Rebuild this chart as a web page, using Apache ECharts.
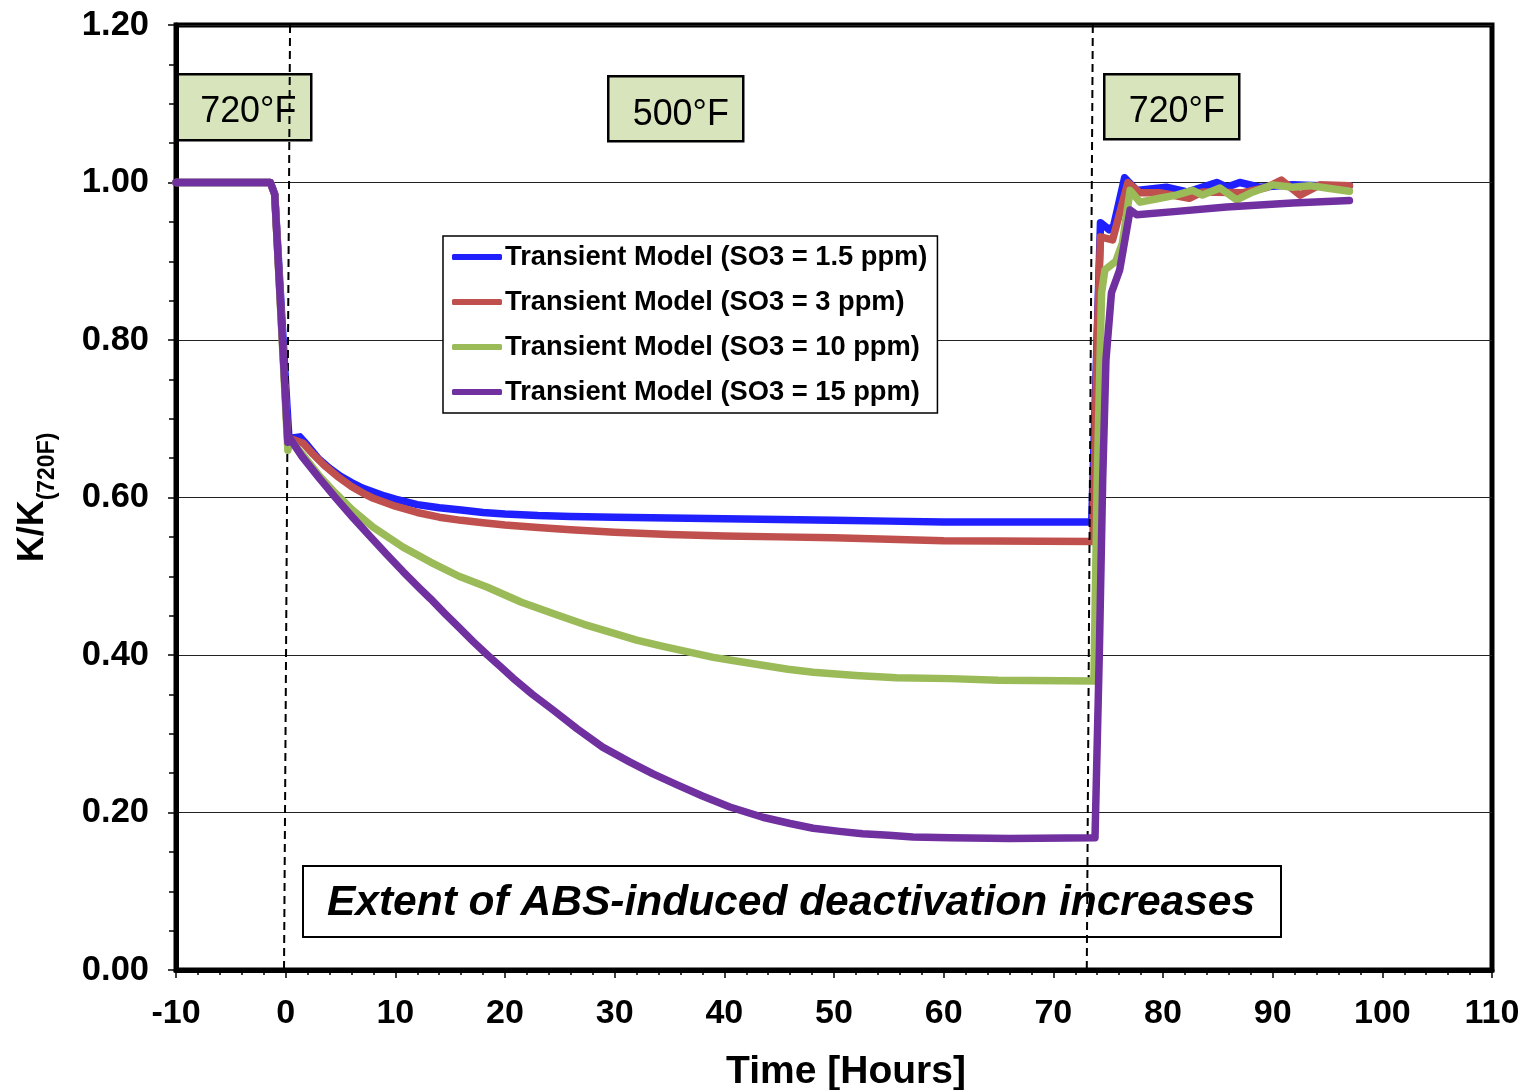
<!DOCTYPE html>
<html>
<head>
<meta charset="utf-8">
<script src="https://cdn.jsdelivr.net/npm/echarts@6/dist/echarts.min.js"></script>
<style>
html,body{margin:0;padding:0;background:#fff;}
#chart{width:1523px;height:1090px;}
</style>
</head>
<body>
<div id="chart"></div>
<script>
// ---- Data ----
const seriesNames = [
  'Transient Model (SO3 = 1.5 ppm)',
  'Transient Model (SO3 = 3 ppm)',
  'Transient Model (SO3 = 10 ppm)',
  'Transient Model (SO3 = 15 ppm)'
];
const timeBlue = [-10, -1.4, -1.0, 0.1, 0.3, 1.3, 2, 3, 4, 5, 6, 7, 8, 9, 10, 12, 14, 16, 18, 20, 23, 26, 30, 35, 40, 45, 50, 55, 60, 73.5, 74.3, 75.1, 75.5, 76.5, 77.6, 80.3, 82.2, 84.9, 85.8, 87.0, 88.8, 91.8, 94.3, 97];
const kBlue    = [1.0, 1.0, 0.985, 0.72, 0.675, 0.677, 0.666, 0.649, 0.637, 0.627, 0.619, 0.612, 0.607, 0.602, 0.598, 0.591, 0.587, 0.584, 0.581, 0.579, 0.577, 0.576, 0.575, 0.574, 0.573, 0.572, 0.571, 0.570, 0.569, 0.569, 0.949, 0.94, 0.945, 1.006, 0.99, 0.994, 0.988, 1.0, 0.994, 1.0, 0.994, 0.997, 0.996, 0.996];

const timeRed = [-10, -1.4, -1.0, 0.2, 0.4, 1.6, 2.5, 3.5, 4.7, 6, 7, 8, 9, 10, 12, 14, 16, 18, 20, 23, 26, 30, 35, 40, 45, 50, 55, 60, 73.6, 74.0, 74.3, 75.4, 76.8, 77.9, 79.7, 82.4, 83.6, 87.3, 89.5, 90.8, 92.5, 94.3, 97];
const kRed    = [1.0, 1.0, 0.985, 0.67, 0.675, 0.669, 0.655, 0.641, 0.627, 0.614, 0.606, 0.599, 0.594, 0.589, 0.581, 0.575, 0.571, 0.568, 0.565, 0.562, 0.559, 0.556, 0.553, 0.551, 0.550, 0.549, 0.547, 0.545, 0.544, 0.80, 0.931, 0.927, 1.0, 0.987, 0.987, 0.98, 0.988, 0.987, 0.994, 1.003, 0.984, 0.997, 0.996];

const timeGreen = [-10, -1.4, -1.0, 0.2, 0.4, 1.5, 3.1, 4.5, 6.1, 8, 10.7, 13.2, 15.8, 18.4, 21.5, 24.7, 27.2, 29.8, 32, 34.4, 36.7, 39, 41.2, 43.5, 45.8, 48.1, 52, 55.7, 60.6, 65, 73.7, 74.0, 74.4, 74.7, 75.7, 76.3, 77.0, 77.9, 79.7, 81.2, 82.7, 83.6, 85.2, 86.7, 88.2, 90.0, 91.8, 93.4, 94.9, 97];
const kGreen    = [1.0, 1.0, 0.985, 0.66, 0.673, 0.655, 0.627, 0.606, 0.584, 0.562, 0.537, 0.518, 0.50, 0.486, 0.467, 0.451, 0.439, 0.428, 0.419, 0.411, 0.404, 0.397, 0.392, 0.387, 0.382, 0.378, 0.374, 0.371, 0.370, 0.368, 0.367, 0.62, 0.86, 0.889, 0.90, 0.923, 0.99, 0.975, 0.98, 0.984, 0.99, 0.984, 0.993, 0.978, 0.988, 0.997, 0.994, 0.996, 0.993, 0.989];

const timePurple = [-10, -1.4, -1.0, 0.2, 0.3, 1.5, 3.1, 4.6, 6.1, 7.6, 9.2, 10.7, 12.2, 13.2, 14.5, 15.8, 17.1, 18.4, 19.6, 20.7, 22.5, 24.4, 26.6, 28.9, 31.4, 33.5, 35.7, 38, 40.5, 43.5, 46, 48.1, 50.5, 52.6, 55, 57.2, 60.6, 66, 73.8, 74.2, 74.5, 74.8, 75.3, 76.05, 77.0, 77.6, 81, 85.8, 91.8, 97];
const kPurple    = [1.0, 1.0, 0.985, 0.67, 0.677, 0.652, 0.624, 0.599, 0.575, 0.552, 0.528, 0.506, 0.485, 0.4715, 0.453, 0.435, 0.417, 0.40, 0.385, 0.371, 0.35, 0.33, 0.306, 0.283, 0.264, 0.249, 0.235, 0.221, 0.207, 0.194, 0.186, 0.18, 0.176, 0.173, 0.171, 0.169, 0.168, 0.167, 0.168, 0.406, 0.622, 0.775, 0.86, 0.889, 0.965, 0.959, 0.963, 0.969, 0.974, 0.977];

// temperature change markers (top and bottom ends of dashed lines)
const changeLineTop    = [[0.4, 1.2], [73.6, 1.2]];
const changeLineBottom = [[-0.15, 0], [73.05, 0]];

const tempLabels = ['720°F', '500°F', '720°F'];
const noteText = 'Extent of ABS-induced deactivation increases';

const xTicks = {min: -10, max: 110, interval: 10};
const yTicks = {min: 0, max: 1.2, interval: 0.2};

// ---- Styles ----
const colors = ['#2020ff', '#c0504d', '#9bbb59', '#7030a0'];
const FONT = '"Liberation Sans", Arial, sans-serif';

function zip(t, k) { return t.map((v, i) => [v, k[i]]); }
const dataSets = [zip(timeBlue, kBlue), zip(timeRed, kRed), zip(timeGreen, kGreen), zip(timePurple, kPurple)];

const chart = echarts.init(document.getElementById('chart'), null, {renderer: 'canvas'});

const series = dataSets.map((d, i) => ({
  name: seriesNames[i],
  type: 'line',
  data: d,
  showSymbol: false,
  symbol: 'none',
  smooth: false,
  lineStyle: {color: colors[i], width: 7.5, cap: 'round', join: 'round'},
  itemStyle: {color: colors[i]},
  z: 3 + i,
  animation: false
}));

series.push({
  name: 'markers',
  type: 'line',
  data: [],
  z: 20,
  animation: false,
  markLine: {
    silent: true,
    symbol: ['none', 'none'],
    label: {show: false},
    lineStyle: {color: '#000', width: 2, type: [8, 5]},
    data: changeLineTop.map((p, i) => [{coord: p}, {coord: changeLineBottom[i]}]),
    animation: false
  }
});

function tempBox(x, y, w, h, txt, dx, dy) {
  return {
    type: 'group', left: x, top: y, z: 30,
    children: [
      {type: 'rect', shape: {x: 0, y: 0, width: w, height: h},
       style: {fill: '#d8e4bc', stroke: '#000', lineWidth: 2.5}},
      {type: 'text', x: w / 2 + dx, y: h / 2 + dy, scaleX: 0.97,
       style: {text: txt, font: '37px ' + FONT, fill: '#000', align: 'center', verticalAlign: 'middle'}}
    ]
  };
}

const option = {
  backgroundColor: '#fff',
  animation: false,
  grid: {left: 176, top: 25, right: 31, bottom: 120, show: true, borderColor: '#000', borderWidth: 5,
         containLabel: false, outerBoundsMode: 'none'},
  legend: {
    data: seriesNames,
    orient: 'vertical',
    left: 443, top: 236,
    icon: 'roundRect',
    itemWidth: 50, itemHeight: 6,
    itemGap: 15,
    padding: [6, 10, 6, 9],
    backgroundColor: '#fff',
    borderColor: '#000', borderWidth: 1.5,
    textStyle: {fontFamily: FONT, fontWeight: 'bold', fontSize: 27.3, color: '#000', lineHeight: 30, padding: [0, 0, 0, -2]},
    z: 25
  },
  xAxis: {
    type: 'value',
    min: xTicks.min, max: xTicks.max, interval: xTicks.interval,
    name: 'Time [Hours]',
    nameLocation: 'middle',
    nameGap: 83,
    nameTextStyle: {fontFamily: FONT, fontWeight: 'bold', fontSize: 39, color: '#000', padding: [0, 0, 0, 24]},
    axisLine: {show: true, onZero: false, lineStyle: {color: '#000', width: 5}},
    axisTick: {show: true, length: 8, lineStyle: {color: '#000', width: 1.5}},
    minorTick: {show: true, splitNumber: 5, length: 5, lineStyle: {color: '#000', width: 1.5}},
    axisLabel: {fontFamily: FONT, fontWeight: 'bold', fontSize: 34, color: '#000', margin: 27},
    splitLine: {show: false}
  },
  yAxis: {
    type: 'value',
    min: yTicks.min, max: yTicks.max, interval: yTicks.interval,
    name: '{a|K/K}{b|(720F)}',
    nameLocation: 'middle',
    nameRotate: 90,
    nameGap: 125,
    nameTextStyle: {
      color: '#000',
      rich: {
        a: {fontFamily: FONT, fontWeight: 'bold', fontSize: 36, color: '#000', lineHeight: 44, verticalAlign: 'bottom'},
        b: {fontFamily: FONT, fontWeight: 'bold', fontSize: 23, color: '#000', lineHeight: 44, verticalAlign: 'bottom', padding: [0, 0, -8, 0]}
      }
    },
    axisLine: {show: true, onZero: false, lineStyle: {color: '#000', width: 5}},
    axisTick: {show: true, length: 8, lineStyle: {color: '#000', width: 1.5}},
    minorTick: {show: true, splitNumber: 4, length: 7, lineStyle: {color: '#000', width: 1.5}},
    axisLabel: {fontFamily: FONT, fontWeight: 'bold', fontSize: 34.5, color: '#000', margin: 27,
      formatter: v => v.toFixed(2)},
    splitLine: {show: true, lineStyle: {color: '#222', width: 1.2}}
  },
  series: series,
  graphic: [
    tempBox(176, 73, 134, 66, tempLabels[0], 4, 5),
    tempBox(607, 75, 135, 65, tempLabels[1], 5, 6),
    tempBox(1103, 73, 135, 65, tempLabels[2], 5, 5),
    {
      type: 'group', left: 302, top: 865, z: 30,
      children: [
        {type: 'rect', shape: {x: 0, y: 0, width: 978, height: 71},
         style: {fill: '#fff', stroke: '#000', lineWidth: 2}},
        {type: 'text', x: 488, y: 37,
         style: {text: noteText, font: 'italic bold 42.5px ' + FONT, fill: '#000', align: 'center', verticalAlign: 'middle'}}
      ]
    }
  ]
};
chart.setOption(option);
</script>
</body>
</html>
